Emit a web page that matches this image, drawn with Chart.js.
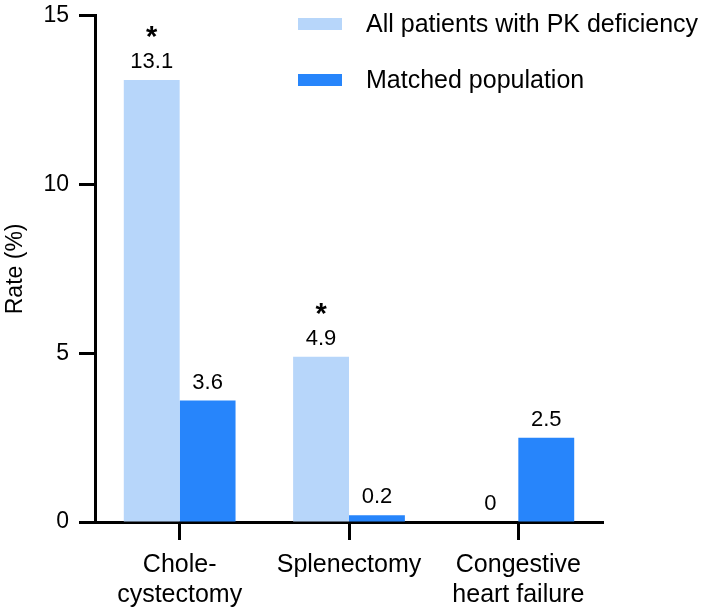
<!DOCTYPE html>
<html>
<head>
<meta charset="utf-8">
<script src="https://cdn.jsdelivr.net/npm/chart.js@4"></script>
<style>
  html, body { margin: 0; padding: 0; background: #fff; }
</style>
</head>
<body>
<canvas id="chart" width="709" height="608"></canvas>
<script>
const categories = [['Chole-', 'cystectomy'], 'Splenectomy', ['Congestive', 'heart failure']];
const seriesNames = ['All patients with PK deficiency', 'Matched population'];
const allPatients = [13.1, 4.9, 0];
const matchedPop = [3.6, 0.2, 2.5];
const significant = [true, true, false]; // asterisk above the "all patients" bar
const yMin = 0, yMax = 15, yStep = 5;

const FONT = '"Liberation Sans", Arial, sans-serif';
const colors = ['#b7d6fa', '#2785fb'];

// value labels, asterisks and the legend
const annotate = {
  id: 'annotate',
  afterDatasetsDraw(chart) {
    const ctx = chart.ctx;
    ctx.save();
    ctx.fillStyle = '#000';
    ctx.textAlign = 'center';
    chart.data.datasets.forEach((ds, di) => {
      chart.getDatasetMeta(di).data.forEach((bar, i) => {
        ctx.font = '22px ' + FONT;
        ctx.textBaseline = 'alphabetic';
        ctx.fillText(String(ds.data[i]), bar.x, bar.y - 12);
        if (di === 0 && significant[i]) {
          ctx.font = 'bold 29px ' + FONT;
          ctx.textBaseline = 'middle';
          ctx.fillText('*', bar.x, bar.y - 42);
        }
      });
    });
    // legend
    ctx.textAlign = 'left';
    ctx.textBaseline = 'middle';
    ctx.font = '25px ' + FONT;
    seriesNames.forEach((name, i) => {
      const y = 24 + i * 56;
      ctx.fillStyle = colors[i];
      ctx.fillRect(298, y - 6, 44, 12);
      ctx.fillStyle = '#000';
      ctx.fillText(name, 366, y + 1);
    });
    ctx.restore();
  }
};

new Chart(document.getElementById('chart'), {
  type: 'bar',
  data: {
    labels: categories,
    datasets: [
      { label: seriesNames[0], data: allPatients, backgroundColor: colors[0] },
      { label: seriesNames[1], data: matchedPop, backgroundColor: colors[1] }
    ]
  },
  options: {
    responsive: false,
    animation: false,
    layout: { padding: { top: 15, right: 106, left: 0, bottom: 0 } },
    datasets: { bar: { categoryPercentage: 0.66, barPercentage: 1.0 } },
    plugins: { legend: { display: false }, tooltip: { enabled: false } },
    scales: {
      x: {
        afterFit(scale) { scale.height = 86; },
        border: { display: true, color: '#000', width: 3 },
        grid: { drawOnChartArea: false, drawTicks: true, offset: false, tickLength: 18, tickWidth: 3, tickColor: '#000' },
        ticks: { color: '#000', font: { family: FONT, size: 25 }, padding: 10, maxRotation: 0 }
      },
      y: {
        min: yMin, max: yMax,
        afterFit(scale) { scale.width = 95; },
        border: { display: true, color: '#000', width: 3 },
        grid: { drawOnChartArea: false, drawTicks: true, tickLength: 16, tickWidth: 3, tickColor: '#000' },
        ticks: { stepSize: yStep, color: '#000', font: { family: FONT, size: 23, lineHeight: 0.5 }, padding: 10 },
        title: { display: true, text: 'Rate (%)', color: '#000', font: { family: FONT, size: 23 }, padding: 2 }
      }
    }
  },
  plugins: [annotate]
});
</script>
</body>
</html>
